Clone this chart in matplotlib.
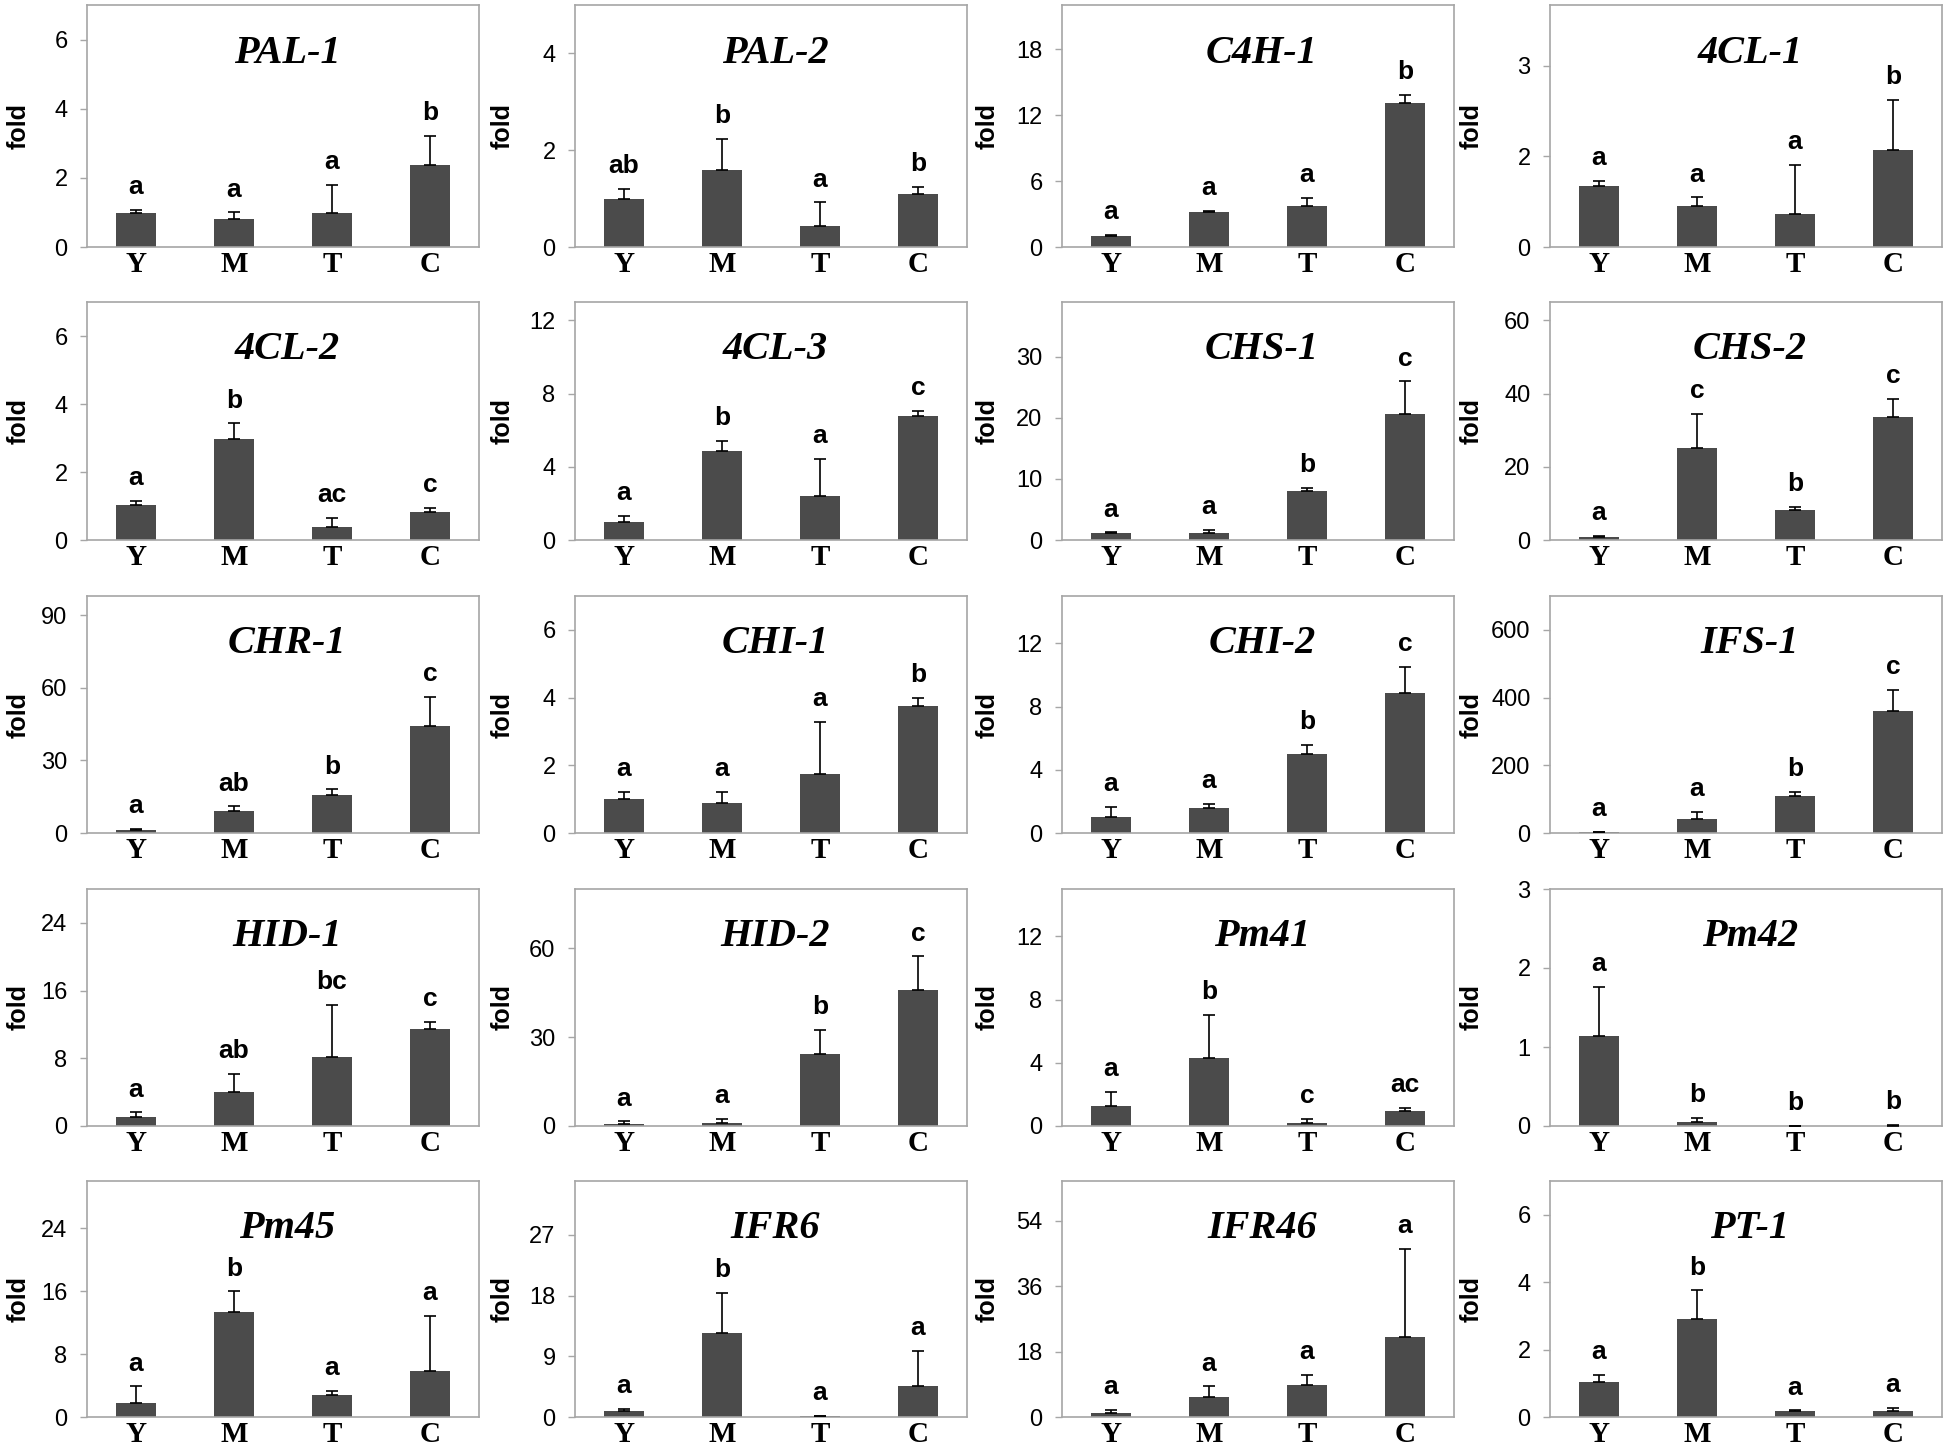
import numpy as np
import matplotlib
matplotlib.use('Agg')
import matplotlib.pyplot as plt

# gene panels, read row by row
genes = ['PAL-1', 'PAL-2', 'C4H-1', '4CL-1',
         '4CL-2', '4CL-3', 'CHS-1', 'CHS-2',
         'CHR-1', 'CHI-1', 'CHI-2', 'IFS-1',
         'HID-1', 'HID-2', 'Pm41', 'Pm42',
         'Pm45', 'IFR6', 'IFR46', 'PT-1']
stages = ['Y', 'M', 'T', 'C']

# mean fold change per stage
means = [
    [0.98, 0.82, 0.98, 2.37],
    [0.99, 1.60, 0.43, 1.10],
    [1.00, 3.15, 3.72, 13.1],
    [1.01, 0.68, 0.55, 1.61],
    [1.03, 2.96, 0.37, 0.81],
    [0.98, 4.87, 2.41, 6.77],
    [1.10, 1.10, 7.95, 20.7],
    [0.73, 25.2, 8.2, 33.7],
    [1.4, 9.2, 15.6, 44.2],
    [1.00, 0.88, 1.74, 3.75],
    [1.02, 1.60, 5.00, 8.86],
    [3, 41, 110, 361],
    [1.1, 4.0, 8.2, 11.5],
    [0.8, 1.1, 24.2, 45.8],
    [1.27, 4.29, 0.21, 0.94],
    [1.14, 0.055, 0.005, 0.005],
    [1.8, 13.4, 2.85, 5.9],
    [0.9, 12.4, 0.2, 4.54],
    [1.1, 5.6, 8.9, 22.1],
    [1.04, 2.92, 0.19, 0.19],
]

# upper error bars
errs = [
    [0.09, 0.18, 0.82, 0.85],
    [0.21, 0.64, 0.49, 0.15],
    [0.10, 0.09, 0.76, 0.76],
    [0.08, 0.14, 0.80, 0.82],
    [0.13, 0.47, 0.29, 0.14],
    [0.33, 0.55, 2.03, 0.29],
    [0.16, 0.55, 0.55, 5.3],
    [0.37, 9.2, 0.8, 4.8],
    [0.3, 1.8, 2.5, 12.0],
    [0.21, 0.33, 1.54, 0.25],
    [0.62, 0.25, 0.58, 1.64],
    [1, 22, 11, 62],
    [0.5, 2.14, 6.1, 0.8],
    [0.8, 1.4, 8.2, 11.5],
    [0.9, 2.76, 0.24, 0.22],
    [0.62, 0.045, 0.0, 0.01],
    [2.1, 2.6, 0.51, 7.0],
    [0.33, 6.0, 0.0, 5.26],
    [0.9, 2.9, 2.8, 24.3],
    [0.21, 0.84, 0.01, 0.08],
]

# significance letters
letters = [
    ['a', 'a', 'a', 'b'], ['ab', 'b', 'a', 'b'], ['a', 'a', 'a', 'b'], ['a', 'a', 'a', 'b'],
    ['a', 'b', 'ac', 'c'], ['a', 'b', 'a', 'c'], ['a', 'a', 'b', 'c'], ['a', 'c', 'b', 'c'],
    ['a', 'ab', 'b', 'c'], ['a', 'a', 'a', 'b'], ['a', 'a', 'b', 'c'], ['a', 'a', 'b', 'c'],
    ['a', 'ab', 'bc', 'c'], ['a', 'a', 'b', 'c'], ['a', 'b', 'c', 'ac'], ['a', 'b', 'b', 'b'],
    ['a', 'b', 'a', 'a'], ['a', 'b', 'a', 'a'], ['a', 'a', 'a', 'a'], ['a', 'b', 'a', 'a'],
]

# axis ranges and tick steps
ymaxs = [7, 5, 22, 4, 7, 13, 39, 65, 98, 7, 15, 700, 28, 80, 15, 3, 30, 35, 65, 7]
ysteps = [2, 2, 6, 1.5, 2, 4, 10, 20, 30, 2, 4, 200, 8, 30, 4, 1, 8, 9, 18, 2]

W, H = 1946, 1447
fig = plt.figure(figsize=(W / 100, H / 100), dpi=100)

# panel boxes in pixels
col_left = [87, 575, 1062, 1550]
row_top = [5, 302, 596, 889, 1181]
row_bot = [247, 540, 833, 1126, 1417]
box_w = 392
# where the "fold" label sits, per column (axes fraction)
label_x = [-0.175, -0.184, -0.19, -0.2]

sans = 'Liberation Sans'
serif = 'Liberation Serif'
edge = '#a6a6a6'

for i, gene in enumerate(genes):
    r, c = divmod(i, 4)
    ax = fig.add_axes([col_left[c] / W, 1 - row_bot[r] / H,
                       box_w / W, (row_bot[r] - row_top[r]) / H])
    x = np.arange(4)
    m = np.array(means[i])
    e = np.array(errs[i])
    ax.bar(x, m, width=0.4, color='#4b4b4b', zorder=2)
    ax.errorbar(x, m, yerr=[np.zeros(4), e], fmt='none', ecolor='black',
                elinewidth=1.2, capsize=4, capthick=1.2, zorder=3)
    ymax = ymaxs[i]
    for xi, top, lab in zip(x, m + e, letters[i]):
        ax.text(xi, top + 0.045 * ymax, lab, ha='center', va='bottom',
                fontsize=19, fontweight='bold', family=sans)
    ax.set_xlim(-0.5, 3.5)
    ax.set_ylim(0, ymax)
    ticks = np.arange(0, ymax + 1e-9, ysteps[i])
    if gene == '4CL-1':
        ax.set_yticks(ticks, labels=['0', '2', '3'])
    else:
        ax.set_yticks(ticks, labels=['%g' % t for t in ticks])
    ax.set_xticks(x, labels=stages)
    for lab in ax.get_xticklabels():
        lab.set_fontfamily(serif)
        lab.set_fontweight('bold')
        lab.set_fontsize(21)
    for lab in ax.get_yticklabels():
        lab.set_fontfamily(sans)
        lab.set_fontsize(17)
    ax.tick_params(axis='x', length=0, pad=3)
    ax.tick_params(axis='y', length=5, width=1, color=edge, pad=9)
    for s in ax.spines.values():
        s.set_color(edge)
        s.set_linewidth(1.2)
    ax.set_ylabel('fold', fontsize=18, fontweight='bold', family=sans)
    ax.yaxis.label.set_verticalalignment('center')
    ax.yaxis.set_label_coords(label_x[c], 0.5)
    ax.text(0.51, 0.8, gene, transform=ax.transAxes, ha='center', va='center',
            fontsize=29, fontweight='bold', fontstyle='italic', family=serif)

fig.savefig('out.png', dpi=100)
